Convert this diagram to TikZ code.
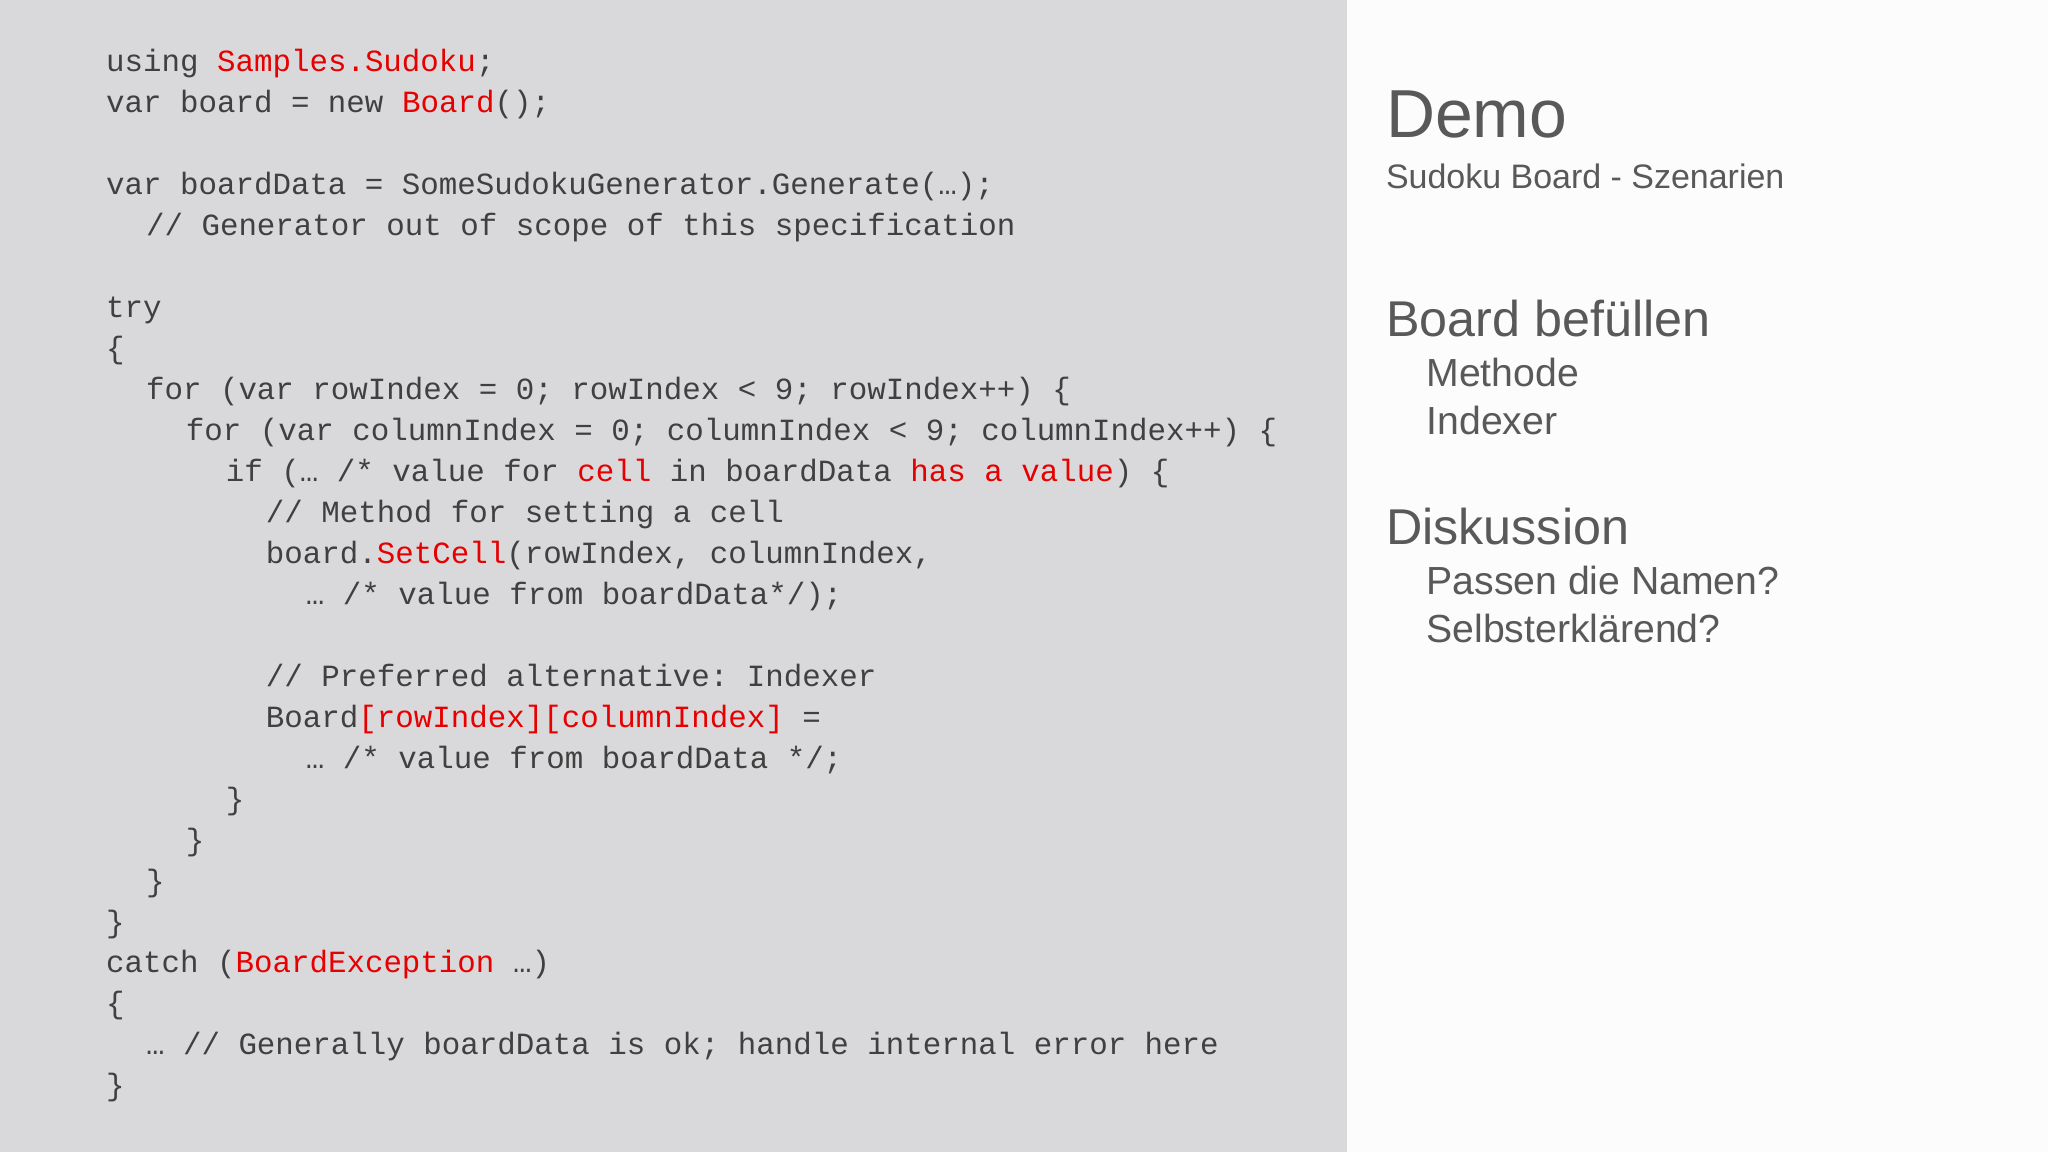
\documentclass[tikz,border=0pt]{standalone}
\usepackage{fontspec}
\setmainfont{Liberation Sans}
\setmonofont{Liberation Mono}
\definecolor{cred}{RGB}{230,0,0}
\definecolor{ctext}{RGB}{64,64,64}
\definecolor{ttl}{RGB}{89,89,89}
\definecolor{leftbg}{RGB}{217,217,219}
\newcommand{\R}[1]{\textcolor{cred}{#1}}
\begin{document}
\begin{tikzpicture}[x=1pt,y=1pt,
  code/.style={anchor=base west,inner sep=0pt,text=ctext,font=\ttfamily\fontsize{23.6}{28}\selectfont},
  ttlbig/.style={anchor=base west,inner sep=0pt,text=ttl,font=\fontsize{52}{60}\selectfont},
  ttlmid/.style={anchor=base west,inner sep=0pt,text=ttl,font=\fontsize{38.5}{44}\selectfont},
  ttlsml/.style={anchor=base west,inner sep=0pt,text=ttl,font=\fontsize{30}{36}\selectfont},
  sub/.style={anchor=base west,inner sep=0pt,text=ttl,font=\fontsize{26}{30}\selectfont}]
\useasboundingbox (0,0) rectangle (1568,-882);
\fill[white!99!black] (0,0) rectangle (1568,-882);
\fill[leftbg] (0,0) rectangle (1031,-882);
\def\L#1{(#1*28.4+81, -55-#1*0+0)}
% code lines
\foreach \i/\ind/\t in {
0/0/{using \R{Samples.Sudoku};},
1/0/{var board = new \R{Board}();},
3/0/{var boardData = SomeSudokuGenerator.Generate(…);},
4/1/{// Generator out of scope of this specification},
6/0/{try},
7/0/{\{},
8/1/{for (var rowIndex = 0; rowIndex < 9; rowIndex++) \{},
9/2/{for (var columnIndex = 0; columnIndex < 9; columnIndex++) \{},
10/3/{if (… /* value for \R{cell} in boardData \R{has a value}) \{},
11/4/{// Method for setting a cell},
12/4/{board.\R{SetCell}(rowIndex, columnIndex,},
13/5/{… /* value from boardData*/);},
15/4/{// Preferred alternative: Indexer},
16/4/{Board\R{[rowIndex][columnIndex]} =},
17/5/{… /* value from boardData */;},
18/3/{\}},
19/2/{\}},
20/1/{\}},
21/0/{\}},
22/0/{catch (\R{BoardException} …)},
23/0/{\{},
24/1/{… // Generally boardData is ok; handle internal error here},
25/0/{\}}}
  \node[code] (c\i) at (81+\ind*30.6, -55-\i*31.36) {\t};
% right panel
\node[ttlbig] (demo) at (1061,-105) {Demo};
\node[sub] (demosub) at (1061,-144) {Sudoku Board - Szenarien};
\node[ttlmid] (fill) at (1061,-258) {Board befüllen};
\node[ttlsml] (m1) at (1092,-296) {Methode};
\node[ttlsml] (m2) at (1092,-333) {Indexer};
\node[ttlmid] (disk) at (1061,-417) {Diskussion};
\node[ttlsml] (d1) at (1092,-455) {Passen die Namen?};
\node[ttlsml] (d2) at (1092,-492) {Selbsterklärend?};
\end{tikzpicture}
\end{document}
